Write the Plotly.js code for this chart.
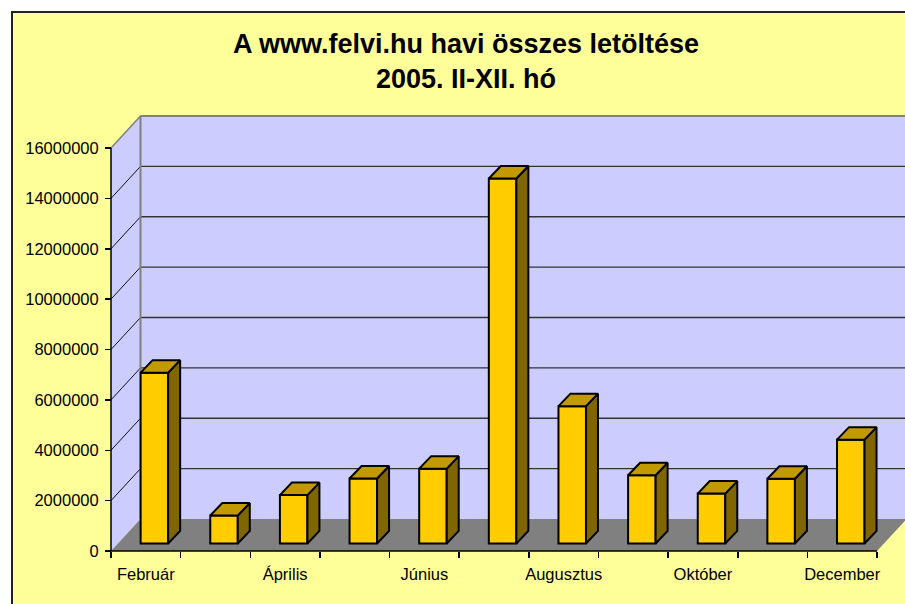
<!DOCTYPE html>
<html>
<head>
<meta charset="utf-8">
<script src="https://cdn.plot.ly/plotly-3.0.1.min.js"></script>
<style>html,body{margin:0;padding:0;background:#fff;}#chart{width:905px;height:604px;}</style>
</head>
<body>
<div id="chart"></div>
<script>
// ---- data ----
var months = ['Február','Március','Április','Május','Június','Július','Augusztus','Szeptember','Október','November','December'];
var downloads = [6780000, 1110000, 1920000, 2580000, 2970000, 14490000, 5450000, 2710000, 1980000, 2570000, 4120000];
var yTicks = [0, 2000000, 4000000, 6000000, 8000000, 10000000, 12000000, 14000000, 16000000];
var titleText = 'A www.felvi.hu havi összes letöltése<br>2005. II-XII. hó';

// ---- geometry (pixels) ----
var W = 905, H = 604;
var CW = 69.64;      // px per category
var PX0 = 111;       // px of category 0 (front)
var PY0 = 551;       // px of value 0 (front)
var VS = 25.1875;    // px per 1e6
var L = 100, R = 905, T = 108, B = 562;
var n = months.length;
var yMax = yTicks[yTicks.length - 1];

var dx = 29.5 / CW, dy = 32 / VS * 1e6;          // wall depth
var barOff = 0.623, barW = 0.395;                 // bar front face in category units
var base = 0.3e6;                                 // bar base level on front plane
var sdx = 12 / CW, sdy = 12.5 / VS * 1e6;         // bar depth

var xr = [(L - PX0) / CW, (R - PX0) / CW];
var yr = [(PY0 - B) / VS * 1e6, (PY0 - T) / VS * 1e6];

// ---- shapes: walls, floor, grid ----
var shapes = [];
// chart area
shapes.push({type:'rect', xref:'paper', yref:'paper', layer:'below',
  x0:(12 - L) / (R - L), x1:1.2, y0:-0.3, y1:(B - 12) / (B - T),
  fillcolor:'#FFFF99', line:{color:'#222', width:2}});
// side wall
shapes.push({type:'path', layer:'below', xref:'x', yref:'y',
  path:'M0,0 L'+dx+','+dy+' L'+dx+','+(yMax+dy)+' L0,'+yMax+' Z',
  fillcolor:'#CCCCFF', line:{width:0}});
// back wall
shapes.push({type:'rect', layer:'below', xref:'x', yref:'y',
  x0:dx, x1:n + dx, y0:dy, y1:yMax + dy, fillcolor:'#CCCCFF', line:{width:0}});
// gridlines
yTicks.forEach(function(v){
  if (v === 0 || v === yMax) return;
  shapes.push({type:'line', layer:'below', xref:'x', yref:'y',
    x0:dx, x1:n + dx, y0:v + dy, y1:v + dy, line:{color:'#333', width:1.3}});
  shapes.push({type:'line', layer:'below', xref:'x', yref:'y',
    x0:0, x1:dx, y0:v, y1:v + dy, line:{color:'#111', width:1}});
});
// wall borders (gray)
shapes.push({type:'line', layer:'below', xref:'x', yref:'y', x0:dx, x1:n + dx, y0:yMax + dy, y1:yMax + dy, line:{color:'#808080', width:2}});
shapes.push({type:'line', layer:'below', xref:'x', yref:'y', x0:dx, x1:dx, y0:dy, y1:yMax + dy, line:{color:'#808080', width:2}});
shapes.push({type:'line', layer:'below', xref:'x', yref:'y', x0:0, x1:dx, y0:yMax, y1:yMax + dy, line:{color:'#808080', width:1.5}});
// floor
shapes.push({type:'path', layer:'below', xref:'x', yref:'y',
  path:'M0,0 L'+n+',0 L'+(n+dx)+','+dy+' L'+dx+','+dy+' Z',
  fillcolor:'#808080', line:{width:0}});
// axis lines
shapes.push({type:'line', layer:'below', xref:'x', yref:'y', x0:0, x1:0, y0:0, y1:yMax, line:{color:'#000', width:1.5}});
shapes.push({type:'line', layer:'below', xref:'x', yref:'y', x0:0, x1:n, y0:0, y1:0, line:{color:'#000', width:1.5}});

// ---- bars ----
var xs = months.map(function(m, i){ return i + barOff; });
var sideX = [], sideY = [], topX = [], topY = [];
downloads.forEach(function(v, i){
  var xl = i + barOff - barW / 2, xrr = i + barOff + barW / 2;
  var yt = base + v;
  sideX.push(xrr, xrr + sdx, xrr + sdx, xrr, xrr, null);
  sideY.push(base, base + sdy, yt + sdy, yt, base, null);
  topX.push(xl, xrr, xrr + sdx, xl + sdx, xl, null);
  topY.push(yt, yt, yt + sdy, yt + sdy, yt, null);
});

var traces = [
  {type:'bar', x:xs, y:downloads, base:base, width:barW,
   marker:{color:'#FFCC00', line:{color:'#000', width:2}}, hoverinfo:'skip', showlegend:false},
  {type:'scatter', mode:'lines', x:sideX, y:sideY, fill:'toself', fillcolor:'#806600',
   line:{color:'#000', width:2}, hoverinfo:'skip', showlegend:false},
  {type:'scatter', mode:'lines', x:topX, y:topY, fill:'toself', fillcolor:'#C29A00',
   line:{color:'#000', width:2}, hoverinfo:'skip', showlegend:false}
];

var labelVals = [], labelText = [];
months.forEach(function(m, i){ if (i % 2 === 0) { labelVals.push(i + 0.5); labelText.push(m); } });

var layout = {
  width: W, height: H,
  margin: {l: L, r: W - R, t: T, b: H - B, pad: 0},
  paper_bgcolor: '#FFFFFF', plot_bgcolor: 'rgba(0,0,0,0)',
  font: {family: 'Liberation Sans, Arial, sans-serif', size: 16.5, color: '#000'},
  title: {text: titleText, x: 466 / W, xanchor: 'center', xref: 'container',
          y: 1 - 53 / H, yanchor: 'top', yref: 'container',
          font: {family: 'Liberation Sans, Arial, sans-serif', size: 27, color: '#000', weight: 'bold'}},
  showlegend: false,
  bargap: 0,
  xaxis: {range: xr, anchor: 'free', position: (B - PY0) / (B - T), showgrid: false, zeroline: false, showline: false,
          tickmode: 'array', tickvals: labelVals, ticktext: labelText, ticks: '', ticklabelstandoff: 11,
          tickfont: {size: 16.5, color: '#000'},
          minor: {tickmode: 'linear', tick0: 0, dtick: 1, ticks: 'outside', ticklen: 6, tickcolor: '#000', tickwidth: 1.5, showgrid: false},
          fixedrange: true},
  yaxis: {range: yr, anchor: 'free', position: (PX0 - L) / (R - L), showgrid: false, zeroline: false, showline: false,
          tickmode: 'array', tickvals: yTicks, tickformat: 'd', ticks: 'outside', ticklen: 6, tickcolor: '#000', tickwidth: 1.5,
          ticklabelstandoff: 3, tickfont: {size: 16.5, color: '#000'}, fixedrange: true},
  shapes: shapes
};

Plotly.newPlot('chart', traces, layout, {displayModeBar: false, staticPlot: true});
</script>
</body>
</html>
